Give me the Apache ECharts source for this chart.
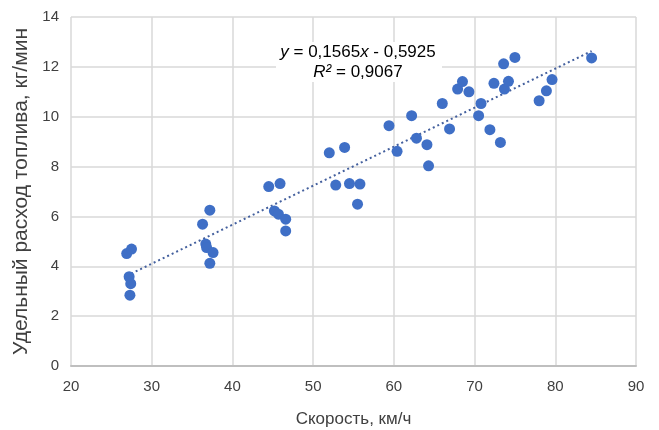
<!DOCTYPE html>
<html>
<head>
<meta charset="utf-8">
<script src="https://cdn.jsdelivr.net/npm/echarts@6/dist/echarts.min.js"></script>
<style>
    html, body { margin: 0; padding: 0; background: #fff; }
    #chart { width: 659px; height: 430px; }
</style>
</head>
<body>
<div id="chart"></div>
<script>
// --- Data ---
const speed = [
    26.9, 27.5, 27.2, 27.4, 27.3,
    37.2, 36.3, 36.7, 36.8, 37.6, 37.2,
    44.5, 45.9, 45.2, 45.7, 46.6, 46.6,
    52.0, 53.9, 52.8, 54.5, 55.8, 55.5,
    59.4, 60.4, 62.2, 62.8, 64.1, 64.3,
    66.0, 66.9, 67.9, 68.5, 69.3, 70.5, 70.8,
    71.9, 72.4, 73.2, 73.6, 73.7, 74.2, 75.0,
    78.0, 78.9, 79.6, 84.5
];
const consumption = [
    4.51, 4.69, 3.58, 3.30, 2.84,
    6.25, 5.69, 4.89, 4.75, 4.55, 4.12,
    7.20, 7.32, 6.22, 6.09, 5.89, 5.42,
    8.55, 8.77, 7.26, 7.32, 7.30, 6.49,
    9.64, 8.61, 10.04, 9.14, 8.88, 8.03,
    10.53, 9.51, 11.11, 11.41, 11.00, 10.04, 10.53,
    9.48, 11.34, 8.97, 12.12, 11.11, 11.42, 12.38,
    10.64, 11.04, 11.49, 12.36
];
const trendSlope = 0.1565;
const trendIntercept = -0.5925;
const xTicks = [20, 30, 40, 50, 60, 70, 80, 90];
const yTicks = [0, 2, 4, 6, 8, 10, 12, 14];

const points = speed.map((s, i) => [s, consumption[i]]);
const xMinData = Math.min(...speed);
const xMaxData = Math.max(...speed);
const trend = [xMinData, xMaxData].map(x => [x, trendSlope * x + trendIntercept]);

const font = '"Liberation Sans", Arial, sans-serif';
const chart = echarts.init(document.getElementById('chart'));

chart.setOption({
    animation: false,
    backgroundColor: '#fff',
    textStyle: { fontFamily: font },
    grid: { left: 71, right: 23, top: 17, bottom: 64, outerBoundsMode: 'none', containLabel: false },
    xAxis: {
        type: 'value',
        min: xTicks[0],
        max: xTicks[xTicks.length - 1],
        interval: 10,
        name: 'Скорость, км/ч',
        nameLocation: 'middle',
        nameGap: 45,
        nameTextStyle: { fontSize: 17, color: '#404040', fontFamily: font },
        axisLine: { show: true, lineStyle: { color: '#bfbfbf', width: 2 } },
        axisTick: { show: false },
        axisLabel: { fontSize: 15, color: '#404040', margin: 13, fontFamily: font },
        splitLine: { show: true, lineStyle: { color: '#d9d9d9', width: 1.5 } }
    },
    yAxis: {
        type: 'value',
        min: yTicks[0],
        max: yTicks[yTicks.length - 1],
        interval: 2,
        name: 'Удельный расход топлива, кг/мин',
        nameLocation: 'middle',
        nameGap: 38,
        nameTextStyle: { fontSize: 21, color: '#404040', fontFamily: font },
        axisLine: { show: false },
        axisTick: { show: false },
        axisLabel: { fontSize: 15, color: '#404040', margin: 12, fontFamily: font },
        splitLine: { show: true, lineStyle: { color: '#d9d9d9', width: 1.5 } }
    },
    series: [
        {
            type: 'scatter',
            data: points,
            symbolSize: 11,
            itemStyle: { color: '#3f6fc6', opacity: 1 },
            z: 3
        },
        {
            type: 'line',
            data: trend,
            showSymbol: false,
            silent: true,
            lineStyle: { color: '#44609e', width: 2, type: [2, 3] },
            z: 2
        }
    ],
    graphic: [
        {
            // white box behind the trendline equation, as in the source
            type: 'rect',
            shape: { x: 276, y: 42, width: 166, height: 40 },
            style: { fill: '#fff' },
            z: 10
        },
        {
            type: 'text',
            x: 358,
            y: 52,
            z: 11,
            style: {
                text: '{i|y} = 0,1565{i|x} - 0,5925',
                align: 'center',
                verticalAlign: 'middle',
                fontSize: 17,
                fontFamily: font,
                fill: '#000',
                rich: { i: { fontStyle: 'italic', fontSize: 17, fontFamily: font } }
            }
        },
        {
            type: 'text',
            x: 358,
            y: 72,
            z: 11,
            style: {
                text: '{i|R²} = 0,9067',
                align: 'center',
                verticalAlign: 'middle',
                fontSize: 17,
                fontFamily: font,
                fill: '#000',
                rich: { i: { fontStyle: 'italic', fontSize: 17, fontFamily: font } }
            }
        }
    ]
});
</script>
</body>
</html>
